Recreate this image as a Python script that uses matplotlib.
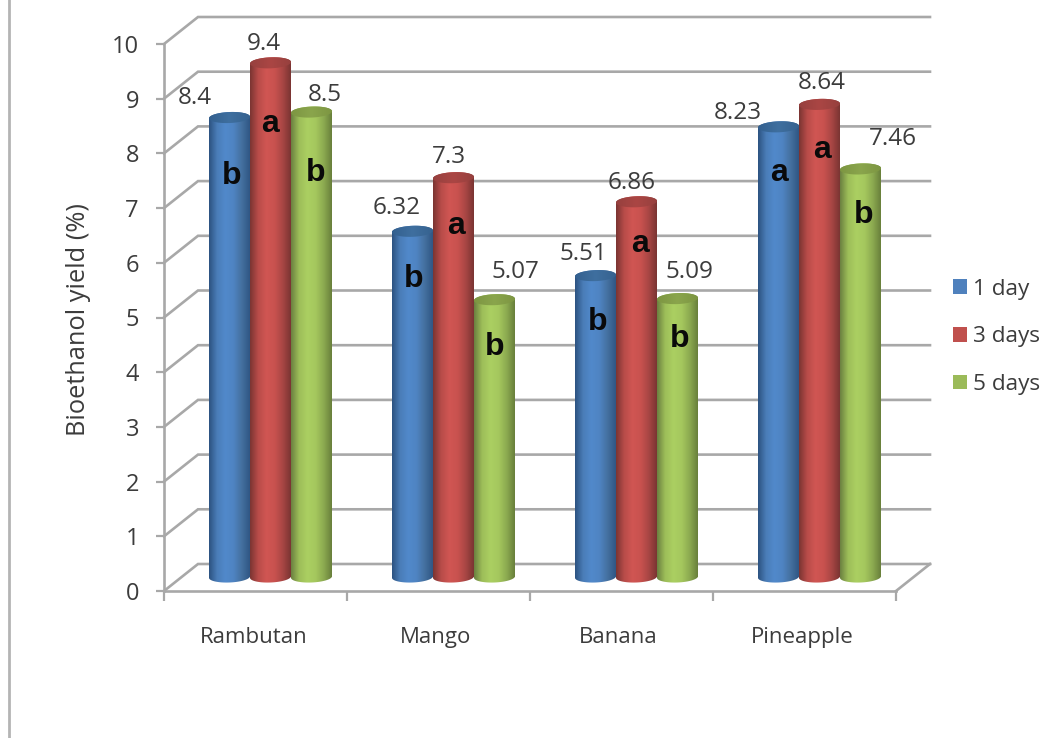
import numpy as np
import matplotlib
matplotlib.use("Agg")
import matplotlib.pyplot as plt
from matplotlib.colors import LinearSegmentedColormap
from matplotlib.lines import Line2D
from matplotlib.patches import PathPatch
from matplotlib.path import Path

# Yield data
fruits = ["Rambutan", "Mango", "Banana", "Pineapple"]
series_names = ["1 day", "3 days", "5 days"]
yield_1day = [8.4, 6.32, 5.51, 8.23]
yield_3days = [9.4, 7.3, 6.86, 8.64]
yield_5days = [8.5, 5.07, 5.09, 7.46]
letters_1day = ["b", "b", "b", "a"]
letters_3days = ["a", "a", "a", "a"]
letters_5days = ["b", "b", "b", "b"]
value_labels_1day = ["8.4", "6.32", "5.51", "8.23"]
value_labels_3days = ["9.4", "7.3", "6.86", "8.64"]
value_labels_5days = ["8.5", "5.07", "5.09", "7.46"]
y_ticks = list(range(0, 11))

# Label placement relative to each bar's top centre, in pixels
value_offsets = [
    [(-35, 20), (-16, 23), (-12, 22), (-41, 14)],
    [(-7, 19), (-5, 21), (-5, 19), (2, 21)],
    [(13, 17), (21, 28), (12, 27), (32, 30)],
]
letter_offsets = [
    [(2, -58), (1, -48), (2, -46), (1, -46)],
    [(-1, -61), (3, -48), (4, -42), (3, -46)],
    [(4, -61), (0, -47), (2, -40), (3, -46)],
]
category_centres = [0.49, 1.485, 2.48, 3.49]

W, H = 1057, 738
AX_L, AX_R, AX_T, AX_B = 164, 896, 44, 591
GRID = "#a8a8a8"
TEXT = "#3c3c3c"
FONT = "Open Sans"

plt.rcParams["font.family"] = [FONT, "DejaVu Sans"]
fig = plt.figure(figsize=(W / 100, H / 100), dpi=100, facecolor="white")
ax = fig.add_axes([AX_L / W, 1 - AX_B / H, (AX_R - AX_L) / W, (AX_B - AX_T) / H])
ax.set_xlim(0, 4)
ax.set_ylim(0, 10)
ax.patch.set_visible(False)

px_x = 4 / (AX_R - AX_L)      # data units per pixel, horizontally
px_y = 10 / (AX_B - AX_T)     # data units per pixel, vertically
depth_x = 34 * px_x
depth_y = 27 * px_y

# Back wall and side wall gridlines, floor edge
for v in y_ticks:
    ax.plot([0, depth_x, 4 + depth_x], [v, v + depth_y, v + depth_y],
            color=GRID, lw=1.9, clip_on=False, zorder=1, solid_joinstyle="miter")
ax.plot([4, 4 + depth_x], [0, depth_y], color=GRID, lw=1.9, clip_on=False, zorder=1)

for side in ("top", "right"):
    ax.spines[side].set_visible(False)
for side in ("left", "bottom"):
    ax.spines[side].set_color(GRID)
    ax.spines[side].set_linewidth(1.9)

ax.set_yticks(y_ticks)
ax.tick_params(axis="y", length=6, width=1.6, color=GRID, labelsize=17,
               labelcolor=TEXT, pad=12)
ax.set_xticks(range(5))
ax.set_xticklabels([])
ax.set_xticks(category_centres, minor=True)
ax.set_xticklabels(fruits, minor=True)
ax.tick_params(axis="x", which="major", length=7, width=1.6, color=GRID)
ax.tick_params(axis="x", which="minor", length=0, labelsize=16,
               labelcolor=TEXT, pad=26)
ax.set_ylabel("Bioethanol yield (%)", fontsize=18.3, color=TEXT, labelpad=0)
ax.yaxis.set_label_coords((91 - AX_L) / (AX_R - AX_L), (AX_B - 320) / (AX_B - AX_T))

# Cylinder columns: shaded body plus a darker elliptical cap
base_colors = ["#4f81bd", "#c0504d", "#9bbb59"]
body_ramps = [
    ["#2c5280", "#4a7db8", "#5189cb", "#4f84c2", "#44709f", "#2f5684"],
    ["#7a3432", "#b84c49", "#d05653", "#c9524f", "#a84644", "#7a3432"],
    ["#6b8040", "#9dbe59", "#abcf62", "#a5c85e", "#8caa50", "#687f3b"],
]
cap_colors = [
    ["#33608f", "#3f6f9f", "#36628f"],
    ["#96403e", "#aa4644", "#96403e"],
    ["#7d9642", "#8aa54c", "#7d9642"],
]
all_series = [yield_1day, yield_3days, yield_5days]
all_values = [value_labels_1day, value_labels_3days, value_labels_5days]
all_letters = [letters_1day, letters_3days, letters_5days]

bar_w = 41 * px_x
group_shift = 15 * px_x
floor_y = 14 * px_y
ry = 5.5 * px_y
tilt = 0.8 * px_y
angles = np.linspace(0, 2 * np.pi, 121)
lower = np.linspace(np.pi, 2 * np.pi, 61)
grad = np.linspace(0, 1, 256)[None, :]
handles = []

for s, values in enumerate(all_series):
    cmap = LinearSegmentedColormap.from_list(f"body{s}", body_ramps[s])
    cap_cmap = LinearSegmentedColormap.from_list(f"cap{s}", cap_colors[s])
    z = 3 + s
    positions = np.arange(4) + 0.5 + group_shift + (s - 1) * bar_w
    bars = ax.bar(positions, values, width=bar_w, bottom=floor_y, color=base_colors[s],
                  linewidth=0, zorder=z, label=series_names[s])
    handles.append(bars[0])
    for i, rect in enumerate(bars):
        cx = rect.get_x() + bar_w / 2
        top = floor_y + rect.get_height()
        half = bar_w / 2

        # Outline: straight sides, rounded foot, rounded head
        xs = np.r_[cx - half, cx + half * np.cos(lower), cx + half,
                   cx + half * np.cos(angles[:61])]
        ys = np.r_[top, floor_y + ry * np.sin(lower) + tilt * np.cos(lower), top,
                   top + ry * np.sin(angles[:61]) + tilt * np.cos(angles[:61])]
        body = PathPatch(Path(np.c_[xs, ys]), fc="none", ec="none", zorder=z)
        ax.add_patch(body)
        im = ax.imshow(grad, cmap=cmap, aspect="auto", interpolation="bilinear",
                       extent=[cx - half, cx + half, floor_y - ry * 1.5, top + ry * 1.5],
                       zorder=z + 0.1)
        im.set_clip_path(body)

        cap = PathPatch(Path(np.c_[cx + half * np.cos(angles),
                                   top + ry * np.sin(angles) + tilt * np.cos(angles)]),
                        fc="none", ec="none", zorder=z)
        ax.add_patch(cap)
        cap_im = ax.imshow(grad, cmap=cap_cmap, aspect="auto", interpolation="bilinear",
                           extent=[cx - half, cx + half, top - ry * 1.5, top + ry * 1.5],
                           zorder=z + 0.2)
        cap_im.set_clip_path(cap)

        # Value above the column and significance letter on its body
        dx, dy = value_offsets[s][i]
        ax.annotate(all_values[s][i], (cx, top), xytext=(dx * 0.72, dy * 0.72),
                    textcoords="offset points", ha="center", va="center",
                    fontsize=17.5, color=TEXT, zorder=20, annotation_clip=False)
        dx, dy = letter_offsets[s][i]
        ax.annotate(all_letters[s][i], (cx, top), xytext=(dx * 0.72, dy * 0.72),
                    textcoords="offset points", ha="center", va="center",
                    fontsize=23, fontweight="bold", color="#0a0a0a", zorder=20,
                    family=["Liberation Sans", "DejaVu Sans"])

ax.set_xlim(0, 4)
ax.set_ylim(0, 10)

fig.legend(handles, series_names, loc="upper left",
           bbox_to_anchor=(948.5 / W, 1 - 274 / H), frameon=False,
           fontsize=16.2, labelcolor=TEXT, handlelength=0.62, handleheight=0.62,
           handletextpad=0.27, labelspacing=1.19, borderpad=0.2, borderaxespad=0)

# Rule down the left side of the figure
fig.add_artist(Line2D([9 / W, 9 / W], [0, 1], transform=fig.transFigure,
                      color="#b4b4b4", lw=2.0))

fig.savefig("out.png", dpi=100, facecolor="white")
